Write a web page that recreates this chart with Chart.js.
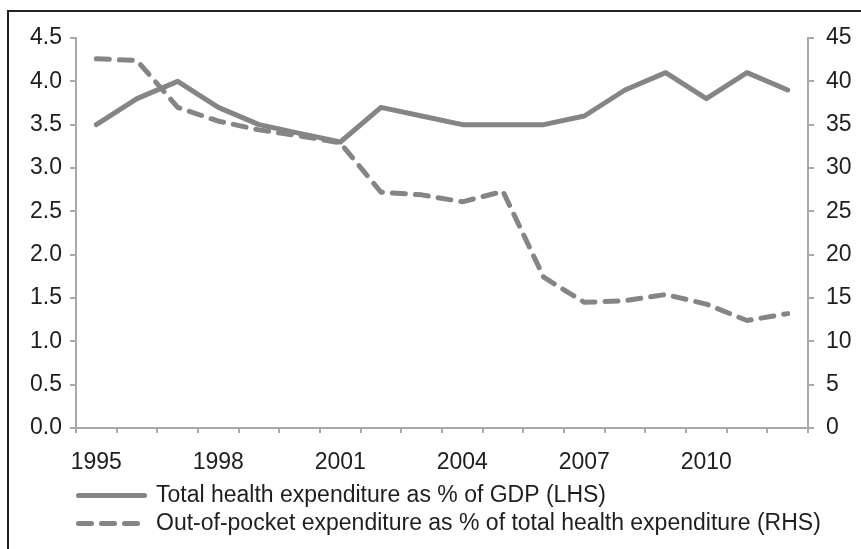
<!DOCTYPE html>
<html>
<head>
<meta charset="utf-8">
<script src="https://cdn.jsdelivr.net/npm/chart.js@4/dist/chart.umd.min.js"></script>
<style>
    html, body { margin: 0; padding: 0; background: #fff; overflow: hidden; }
    #wrap { position: relative; width: 861px; height: 549px; }
    #frame {
        position: absolute; left: 7px; top: 10px; right: -10px; bottom: -10px;
        border-left: 2px solid #222; border-top: 2px solid #222;
        pointer-events: none;
    }
</style>
</head>
<body>
<div id="wrap">
    <canvas id="chart" width="861" height="549"></canvas>
    <div id="frame"></div>
</div>
<script>
// Данные
const years = ['1995', '1996', '1997', '1998', '1999', '2000', '2001', '2002', '2003',
               '2004', '2005', '2006', '2007', '2008', '2009', '2010', '2011', '2012'];
const totalHealthGdp = [3.5, 3.8, 4.0, 3.7, 3.5, 3.4, 3.3, 3.7, 3.6,
                        3.5, 3.5, 3.5, 3.6, 3.9, 4.1, 3.8, 4.1, 3.9];
const outOfPocket = [42.6, 42.4, 37.0, 35.4, 34.4, 33.7, 32.9, 27.2, 26.9,
                     26.1, 27.3, 17.4, 14.5, 14.7, 15.4, 14.3, 12.4, 13.2];
const leftTicks = [0, 0.5, 1, 1.5, 2, 2.5, 3, 3.5, 4, 4.5];
const rightTicks = [0, 5, 10, 15, 20, 25, 30, 35, 40, 45];
const shownYears = ['1995', '1998', '2001', '2004', '2007', '2010'];

const lineColor = '#858585';
const axisColor = '#a8a8a8';
const textColor = '#1e1e1e';
const font = { family: '"Liberation Sans", Arial, sans-serif', size: 23 };

// Легенда начинается у левого края области графика
const legendShift = {
    id: 'legendShift',
    afterLayout(chart) {
        const pad = chart.options.plugins.legend.labels.padding;
        const dx = chart.chartArea.left + 2.5 - pad - chart.legend.left;
        chart.legend.left += dx;
        chart.legend.right += dx;
    }
};

new Chart(document.getElementById('chart'), {
    type: 'line',
    data: {
        labels: years,
        datasets: [{
            label: 'Total health expenditure as % of GDP (LHS)',
            data: totalHealthGdp,
            yAxisID: 'yLeft',
            borderColor: lineColor,
            backgroundColor: lineColor,
            borderWidth: 5,
            borderCapStyle: 'round',
            borderJoinStyle: 'round',
            pointRadius: 0,
            tension: 0
        }, {
            label: 'Out-of-pocket expenditure as % of total health expenditure (RHS)',
            data: outOfPocket,
            yAxisID: 'yRight',
            borderColor: lineColor,
            backgroundColor: lineColor,
            borderWidth: 5,
            borderDash: [13, 10],
            borderCapStyle: 'round',
            borderJoinStyle: 'round',
            pointRadius: 0,
            tension: 0
        }]
    },
    options: {
        responsive: false,
        animation: false,
        layout: { padding: { top: 38, left: 0, right: 0, bottom: 4 } },
        plugins: {
            tooltip: { enabled: false },
            legend: {
                position: 'bottom',
                align: 'start',
                fullSize: true,
                labels: {
                    usePointStyle: true,
                    pointStyle: 'line',
                    pointStyleWidth: 66,
                    padding: 5,
                    color: textColor,
                    font: font,
                    // стиль линии в легенде берём из набора данных
                    generateLabels: chart => {
                        const items = Chart.defaults.plugins.legend.labels.generateLabels(chart);
                        return items.map(item => {
                            const ds = chart.data.datasets[item.datasetIndex];
                            return Object.assign(item, {
                                lineDash: ds.borderDash || [],
                                lineCap: 'round',
                                lineWidth: ds.borderWidth,
                                strokeStyle: ds.borderColor,
                                fillStyle: ds.borderColor
                            });
                        });
                    }
                }
            }
        },
        scales: {
            x: {
                offset: true,
                grid: {
                    offset: true,
                    drawOnChartArea: false,
                    drawTicks: true,
                    tickLength: 5,
                    tickColor: axisColor,
                    lineWidth: 2
                },
                border: { color: axisColor, width: 2 },
                ticks: {
                    autoSkip: false,
                    maxRotation: 0,
                    padding: 16,
                    color: textColor,
                    font: font,
                    callback: function(value) {
                        const label = this.getLabelForValue(value);
                        return shownYears.includes(label) ? label : '';
                    }
                },
                afterFit: scale => { scale.height = 51; }
            },
            yLeft: {
                position: 'left',
                min: 0,
                max: 4.5,
                afterBuildTicks: scale => { scale.ticks = leftTicks.map(v => ({ value: v })); },
                grid: {
                    drawOnChartArea: false,
                    tickLength: 6,
                    tickColor: axisColor,
                    lineWidth: 2
                },
                border: { color: axisColor, width: 2 },
                ticks: {
                    padding: 8,
                    color: textColor,
                    font: font,
                    callback: v => v.toFixed(1)
                },
                afterFit: scale => { scale.width = 76; }
            },
            yRight: {
                position: 'right',
                min: 0,
                max: 45,
                afterBuildTicks: scale => { scale.ticks = rightTicks.map(v => ({ value: v })); },
                grid: {
                    drawOnChartArea: false,
                    tickLength: 6,
                    tickColor: axisColor,
                    lineWidth: 2
                },
                border: { color: axisColor, width: 2 },
                ticks: {
                    padding: 12,
                    color: textColor,
                    font: font,
                    callback: v => String(v)
                },
                afterFit: scale => { scale.width = 53; }
            }
        }
    },
    plugins: [legendShift]
});
</script>
</body>
</html>
